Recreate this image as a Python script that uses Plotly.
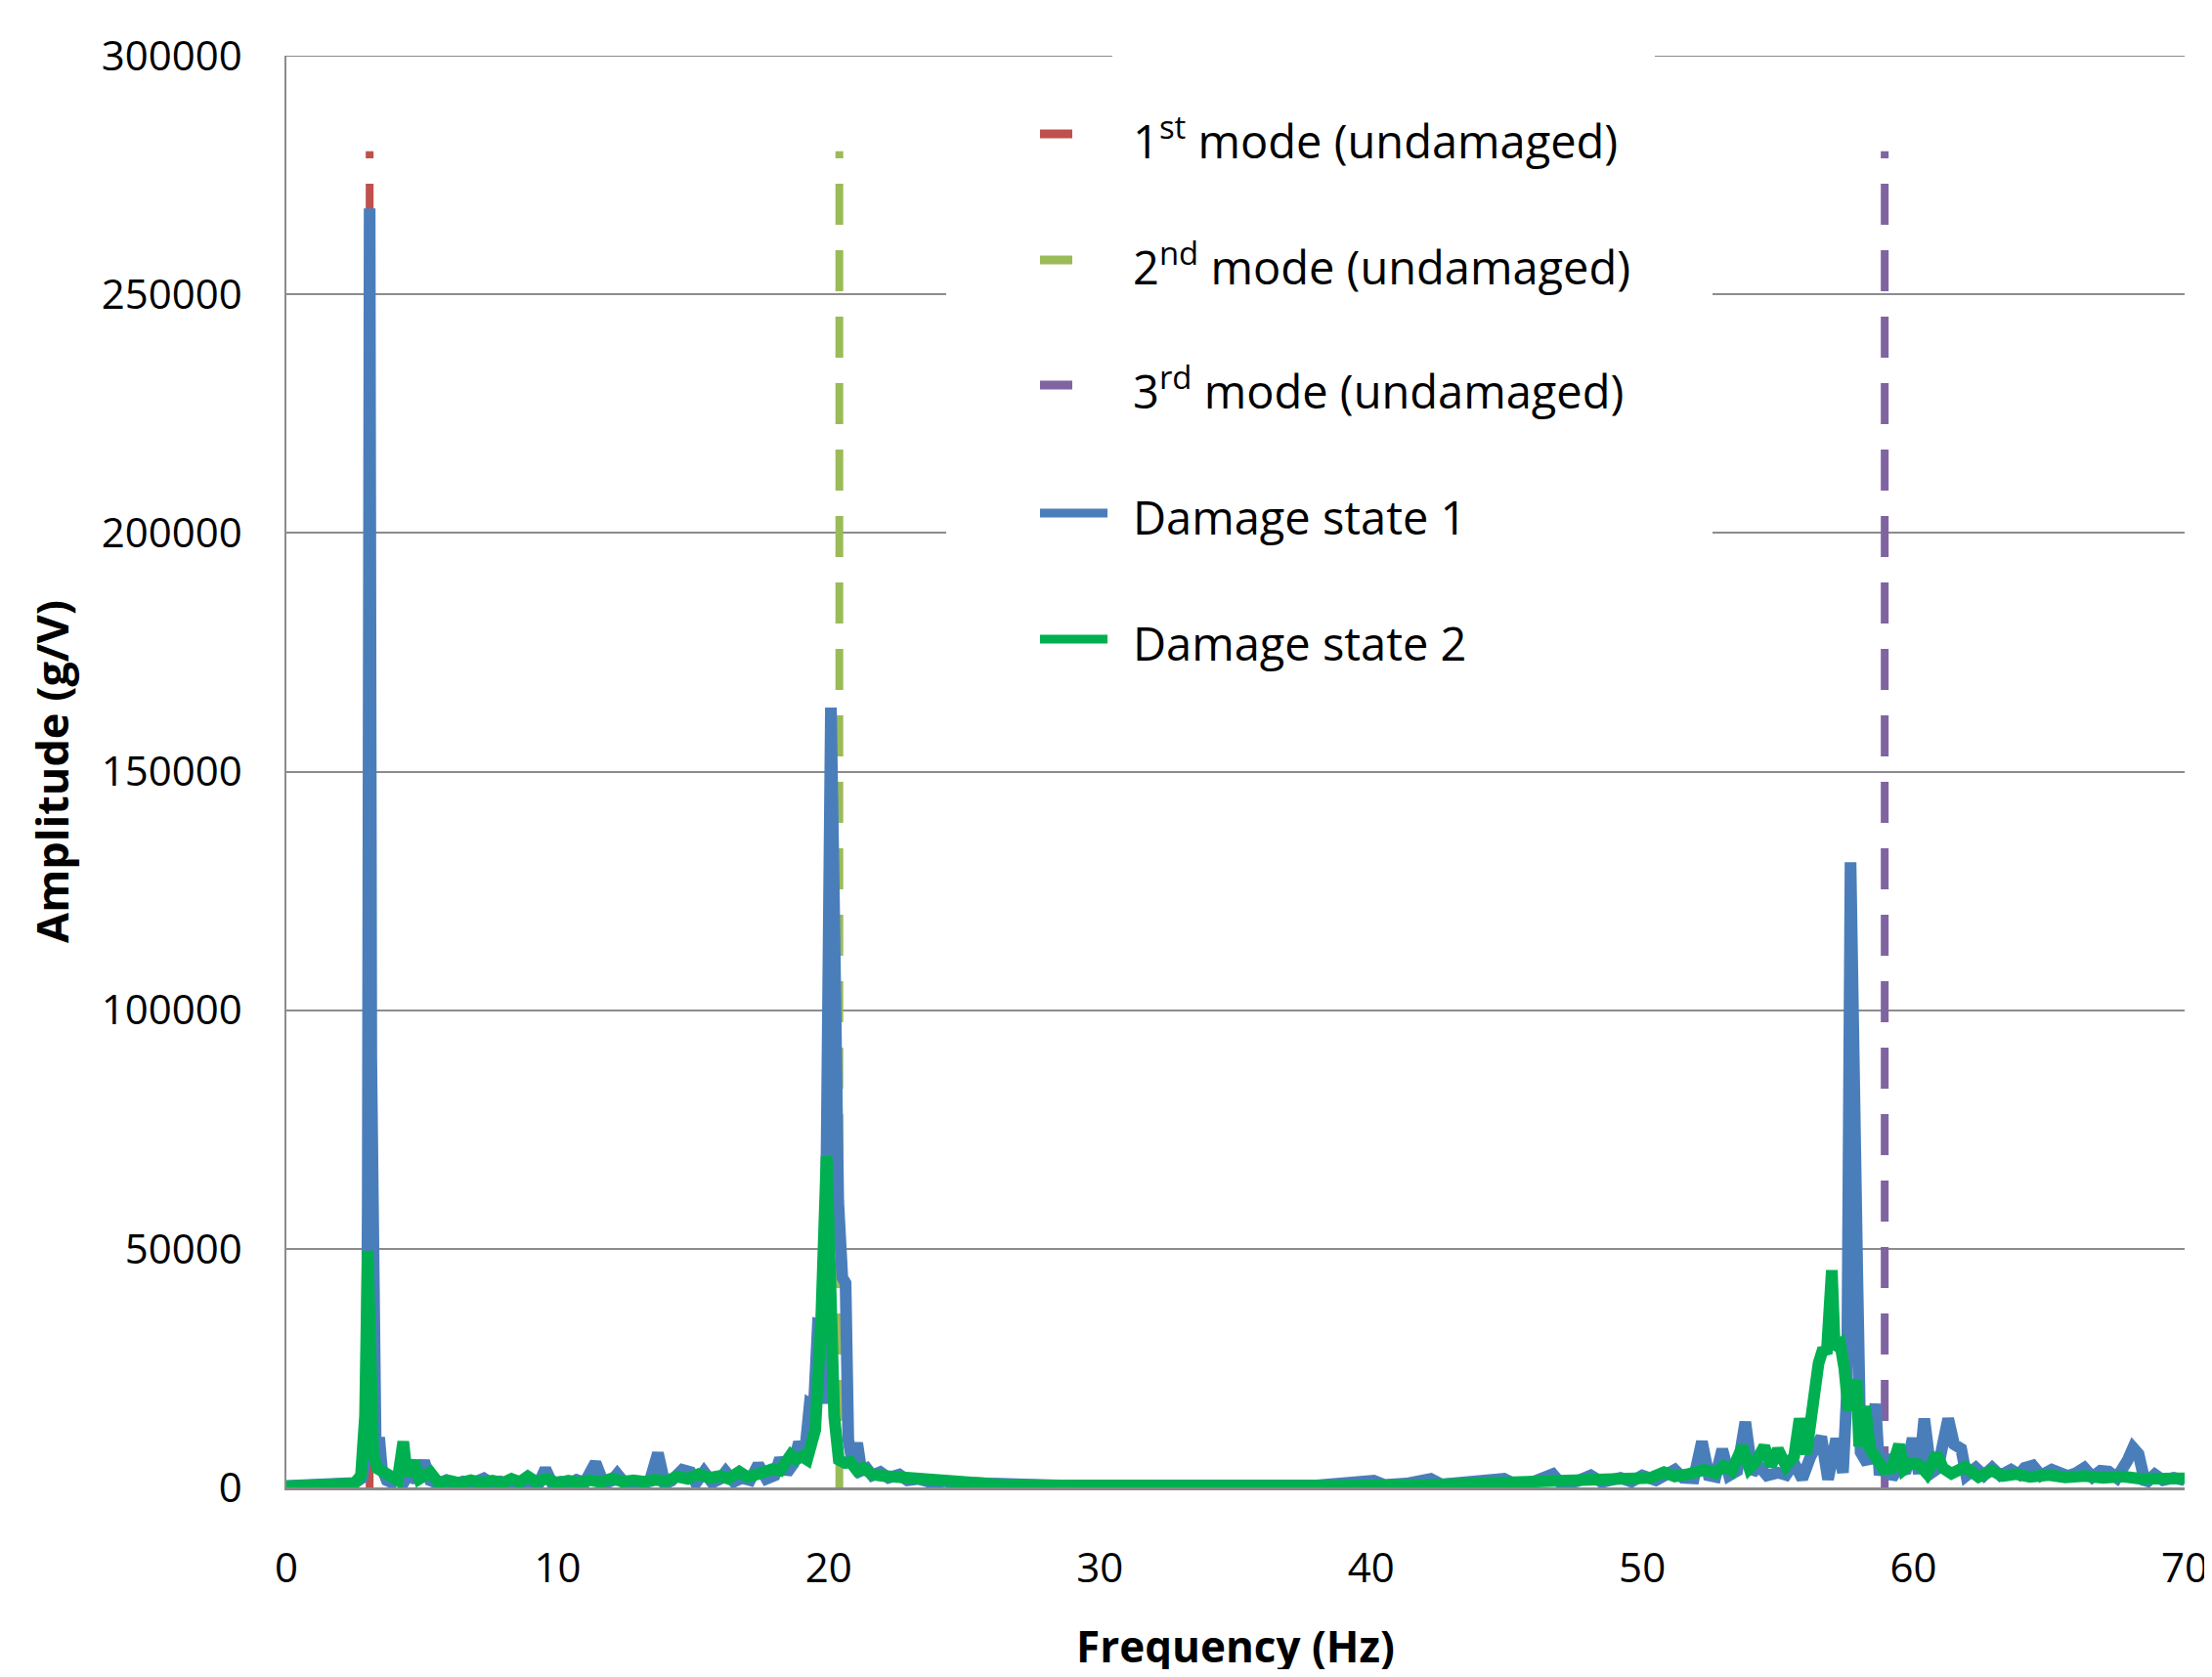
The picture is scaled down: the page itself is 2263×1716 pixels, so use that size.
import plotly.graph_objects as go

# ---- data ----
mode_freqs = [3.07, 20.39, 58.94]
mode_names = ["1<sup>st</sup> mode (undamaged)", "2<sup>nd</sup> mode (undamaged)", "3<sup>rd</sup> mode (undamaged)"]
mode_top = 280000

ds1_f = [0.0, 1.0, 2.0, 2.5, 2.8, 2.95, 3.0, 3.07, 3.13, 3.2, 3.3, 3.42, 3.52, 3.7, 3.9, 4.1, 4.3, 4.6, 4.8, 5.08,
         5.3, 5.6, 5.9, 6.2, 6.5, 6.8, 7.0, 7.28, 7.6, 7.9, 8.2, 8.5, 8.8, 9.1, 9.3, 9.55, 9.8, 10.1, 10.4, 10.7,
         11.0, 11.4, 11.7, 12.0, 12.2, 12.5, 12.8, 13.1, 13.4, 13.7, 13.95, 14.2, 14.6, 14.9, 15.1, 15.4, 15.7, 16.0, 16.2, 16.5,
         16.8, 17.1, 17.4, 17.7, 18.0, 18.2, 18.45, 18.7, 18.9, 19.1, 19.3, 19.45, 19.6, 19.75, 19.83, 19.95, 20.08, 20.2, 20.35, 20.5,
         20.62, 20.72, 20.85, 21.05, 21.2, 21.4, 21.6, 21.9, 22.2, 22.6, 22.9, 23.3, 23.8, 24.3, 24.8, 25.5, 26.3, 27.2, 28.5, 30.0,
         32.0, 34.0, 36.0, 38.0, 40.1, 40.5, 41.3, 42.2, 42.6, 43.5, 44.3, 44.9, 45.3, 46.0, 46.7, 47.0, 47.6, 48.1, 48.5, 49.2,
         49.6, 50.0, 50.5, 50.9, 51.2, 51.5, 51.9, 52.2, 52.45, 52.7, 52.95, 53.2, 53.5, 53.8, 54.05, 54.3, 54.6, 55.0, 55.3, 55.6,
         55.9, 56.2, 56.6, 56.85, 57.15, 57.4, 57.55, 57.68, 57.8, 57.93, 58.05, 58.3, 58.6, 58.75, 58.97, 59.2, 59.5, 59.7, 59.97, 60.2,
         60.4, 60.65, 60.9, 61.28, 61.5, 61.76, 61.95, 62.3, 62.6, 62.9, 63.2, 63.6, 63.9, 64.1, 64.4, 64.7, 65.1, 65.4, 65.7, 66.0,
         66.3, 66.6, 66.9, 67.2, 67.5, 67.9, 68.1, 68.3, 68.55, 68.9, 69.2, 69.6, 70.0]
ds1_a = [300, 300, 500, 900, 2000, 8000, 60000, 268000, 90000, 12000, 5000, 10500, 4000, 1500, 1000, 2500, 800, 3500, 1200, 5500,
         1500, 800, 1500, 600, 1200, 700, 1300, 1900, 700, 1200, 600, 1300, 800, 1400, 700, 3900, 800, 1200, 700, 1600,
         1000, 5200, 800, 1400, 2800, 700, 1200, 900, 1300, 7200, 800, 1400, 3700, 3200, 900, 3300, 1000, 1800, 3300, 1200,
         2000, 1500, 4800, 1800, 2500, 6100, 3000, 5000, 9500, 6000, 17500, 17000, 34200, 34000, 17500, 80000, 163400, 120000, 60000, 44000,
         42800, 10000, 6000, 9300, 3500, 4000, 2500, 3200, 2000, 2700, 1500, 1800, 1000, 1300, 700, 900, 500, 600, 400, 350,
         300, 300, 350, 400, 1400, 500, 800, 1800, 600, 900, 1000, 1800, 700, 1200, 2800, 800, 1300, 2500, 1100, 2000,
         1200, 2500, 1500, 2600, 3700, 2000, 1900, 9600, 2500, 2200, 8000, 2500, 3500, 13700, 3000, 4500, 2500, 3100, 2600, 5100,
         1800, 6400, 10600, 1700, 10200, 3100, 20000, 131000, 60000, 44400, 7400, 5000, 17500, 2600, 6800, 1900, 4500, 3000, 10300, 2900,
         14400, 3000, 4000, 14400, 9000, 8100, 2500, 4100, 2500, 4100, 2500, 3700, 2700, 4100, 4600, 2500, 3700, 3300, 2400, 3000,
         4100, 2200, 3500, 3300, 2000, 5700, 8300, 7000, 800, 2700, 1500, 2000, 1500]

ds2_f = [0.0, 1.0, 2.0, 2.5, 2.75, 2.9, 3.0, 3.1, 3.2, 3.35, 3.6, 3.85, 4.1, 4.31, 4.45, 4.69, 4.9, 5.3, 5.6, 6.0,
         6.4, 6.8, 7.2, 7.6, 8.0, 8.3, 8.6, 8.9, 9.2, 9.6, 10.0, 10.4, 10.8, 11.2, 11.6, 12.0, 12.4, 12.8, 13.2, 13.6,
         14.0, 14.4, 14.8, 15.2, 15.6, 16.0, 16.3, 16.7, 17.0, 17.4, 17.9, 18.2, 18.6, 18.8, 19.0, 19.2, 19.36, 19.5, 19.72, 19.92,
         20.05, 20.2, 20.37, 20.6, 20.8, 21.05, 21.27, 21.6, 22.0, 22.5, 22.96, 23.5, 24.0, 24.77, 25.5, 26.5, 28.0, 30.0, 33.0, 36.0,
         39.0, 42.0, 45.0, 47.0, 48.5, 49.5, 50.3, 50.8, 51.2, 51.7, 52.3, 52.7, 53.0, 53.3, 53.7, 53.95, 54.2, 54.5, 54.75, 55.0,
         55.3, 55.6, 55.8, 56.05, 56.36, 56.5, 56.67, 56.8, 56.99, 57.1, 57.3, 57.45, 57.6, 57.9, 58.0, 58.22, 58.4, 58.6, 58.9, 59.2,
         59.47, 59.65, 59.9, 60.2, 60.5, 60.85, 61.1, 61.4, 61.9, 62.4, 62.9, 63.3, 63.8, 64.3, 65.0, 65.6, 66.3, 67.0, 67.7, 68.4,
         69.2, 70.0]
ds2_a = [200, 200, 400, 800, 2500, 15000, 49600, 30000, 7000, 4000, 3000, 2500, 1500, 9600, 2500, 5500, 1800, 3200, 1000, 1400,
         900, 1500, 1000, 1400, 1000, 1800, 1100, 2300, 1200, 1800, 900, 1400, 1000, 1500, 1100, 1900, 1200, 1500, 1200, 1600,
         1300, 2300, 1800, 2800, 2000, 2400, 1800, 3300, 2200, 2800, 3800, 3500, 6800, 5800, 6500, 5800, 9300, 12000, 35000, 69400,
         45000, 15000, 5800, 5100, 5300, 3500, 4100, 2700, 2400, 2200, 2000, 1500, 1300, 1000, 700, 500, 400, 300, 300, 300,
         350, 500, 900, 1200, 1500, 1800, 2000, 3200, 2300, 2800, 3700, 3000, 4500, 3500, 8600, 4000, 5500, 8600, 4500, 8000,
         4500, 6500, 14400, 7000, 24000, 26000, 29100, 28000, 45500, 29100, 30000, 25000, 16200, 22500, 8600, 17000, 8000, 6000, 3800, 4000,
         9000, 3800, 5000, 4800, 2900, 7000, 4000, 2900, 4300, 2200, 3500, 2400, 2800, 2200, 2600, 2100, 2400, 2000, 2300, 1800,
         2000, 1900]

x_ticks = [0, 10, 20, 30, 40, 50, 60, 70]
y_ticks = [0, 50000, 100000, 150000, 200000, 250000, 300000]
x_title = "Frequency (Hz)"
y_title = "Amplitude (g/V)"

mode_colors = ["#C0504D", "#9BBB59", "#8064A2"]
BLUE = "#4A7EBB"
GREEN = "#00B050"
GRID = "#8C8C8C"
FONT = "Open Sans"

# page is drawn with the browser's 8px body margin
OFF = 8
W, H = 2247, 1700
L, R, T, B = 285, 20, 49, 186
pw, ph = W - L - R, H - T - B
BOT = OFF + H - B   # page y of the x axis


def px(xp):
    return (xp - OFF - L) / pw


def py(yp):
    return (BOT - yp) / ph


fig = go.Figure()
for i, (f, name) in enumerate(zip(mode_freqs, mode_names)):
    fig.add_trace(go.Scatter(
        x=[f, f], y=[0, mode_top], mode="lines", name=name, showlegend=False,
        line=dict(color=mode_colors[i], width=8, dash="42px,26px"), hoverinfo="skip"))

fig.add_trace(go.Scatter(x=ds1_f, y=ds1_a, mode="lines", name="Damage state 1", showlegend=False,
                         line=dict(color=BLUE, width=12)))
fig.add_trace(go.Scatter(x=ds2_f, y=ds2_a, mode="lines", name="Damage state 2", showlegend=False,
                         line=dict(color=GREEN, width=12)))

# legend drawn by hand (box, symbols, labels)
legend_names = mode_names + ["Damage state 1", "Damage state 2"]
legend_colors = mode_colors + [BLUE, GREEN]
legend_rows = [137, 266, 394, 525, 654]
legend_ends = [1097, 1097, 1097, 1133, 1133]

shapes = [
    # white legend box hiding gridlines
    dict(type="rect", xref="paper", yref="paper", x0=px(968), x1=px(1752), y0=py(720), y1=py(75),
         fillcolor="white", line=dict(width=0), layer="above"),
    # top gridline (300000), interrupted as in the reference
    dict(type="line", xref="paper", yref="y", x0=0, x1=px(1138), y0=300000, y1=300000,
         line=dict(color=GRID, width=2), layer="below"),
    dict(type="line", xref="paper", yref="y", x0=px(1693), x1=1, y0=300000, y1=300000,
         line=dict(color=GRID, width=2), layer="below"),
]
annotations = []
for name, col, yr, xe in zip(legend_names, legend_colors, legend_rows, legend_ends):
    shapes.append(dict(type="line", xref="paper", yref="paper", x0=px(1064), x1=px(xe), y0=py(yr), y1=py(yr),
                       line=dict(color=col, width=9), layer="above"))
    annotations.append(dict(text=name, xref="paper", yref="paper", x=px(1157), y=py(yr + 4),
                            xanchor="left", yanchor="middle", showarrow=False,
                            font=dict(size=47, family=FONT, color="black")))

# x-axis title (near the bottom edge of the page, as in the reference)
annotations.append(dict(text="<b>" + x_title + "</b>", xref="paper", yref="paper", x=px(1264), y=py(1684),
                        xanchor="center", yanchor="middle", showarrow=False,
                        font=dict(size=44, family=FONT, color="black")))

fig.update_layout(
    width=W, height=H,
    margin=dict(l=L, r=R, t=T, b=B, autoexpand=False),
    paper_bgcolor="white", plot_bgcolor="white",
    font=dict(family=FONT, size=42, color="black"),
    showlegend=False,
    shapes=shapes,
    annotations=annotations,
)

fig.update_xaxes(range=[0, 70], tickvals=x_ticks, ticktext=[str(v) for v in x_ticks],
                 showgrid=False, zeroline=False, showline=True, linecolor="#898989", linewidth=3,
                 ticks="", ticklabelstandoff=44, ticklabeloverflow="allow", tickfont=dict(size=42, family=FONT))
fig.update_yaxes(range=[0, 300000], tickvals=y_ticks, ticktext=[str(v) for v in y_ticks],
                 showgrid=True, gridcolor=GRID, gridwidth=2, zeroline=False,
                 showline=True, linecolor=GRID, linewidth=1.5,
                 ticks="", ticklabelstandoff=35, tickfont=dict(size=42, family=FONT),
                 title=dict(text="<b>" + y_title + "</b>", font=dict(size=45, family=FONT), standoff=19))

fig.write_html("out.html")
